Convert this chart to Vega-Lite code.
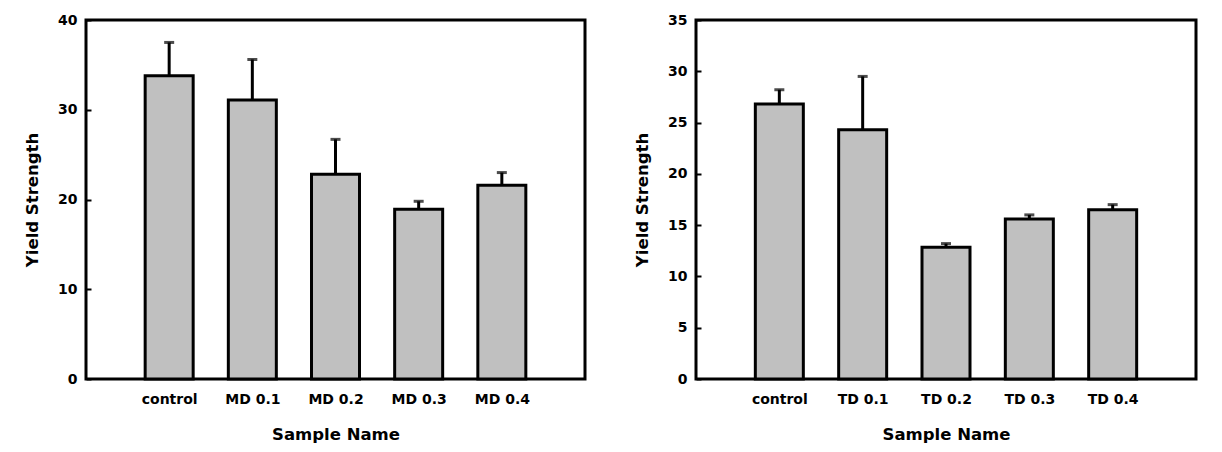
{
  "$schema": "https://vega.github.io/schema/vega-lite/v6.json",
  "background": "white",
  "padding": {"left": 23, "top": 11, "right": 5, "bottom": 5},
  "spacing": 46,
  "config": {
    "view": {"stroke": "black", "strokeWidth": 3},
    "font": "DejaVu Sans",
    "axis": {
      "labelFont": "DejaVu Sans", "labelFontWeight": "bold", "labelFontSize": 14, "labelColor": "black",
      "titleFont": "DejaVu Sans", "titleFontWeight": "bold", "titleFontSize": 16.5, "titleColor": "black",
      "grid": false, "domain": false
    }
  },
  "hconcat": [
    {
      "width": 499, "height": 359,
      "data": {"values": [
        {"sample": "control", "mean": 33.8, "upper": 37.5},
        {"sample": "MD 0.1", "mean": 31.1, "upper": 35.6},
        {"sample": "MD 0.2", "mean": 22.8, "upper": 26.7},
        {"sample": "MD 0.3", "mean": 18.9, "upper": 19.8},
        {"sample": "MD 0.4", "mean": 21.6, "upper": 23.0}
      ]},
      "encoding": {
        "x": {"field": "sample", "type": "nominal", "sort": null, "scale": {"type": "point", "padding": 1},
              "axis": {"title": "Sample Name", "labelAngle": 0, "ticks": false, "labelPadding": 13, "titlePadding": 20}}
      },
      "layer": [
        {"mark": {"type": "bar", "width": 48, "fill": "#c0c0c0", "stroke": "black", "strokeWidth": 3},
         "encoding": {"y": {"field": "mean", "type": "quantitative", "scale": {"domain": [0, 40], "nice": false},
           "axis": {"title": "Yield Strength", "values": [0, 10, 20, 30, 40], "tickSize": -5, "tickWidth": 2, "tickColor": "black", "labelPadding": 14, "titlePadding": 17}}}},
        {"mark": {"type": "rule", "strokeWidth": 3, "color": "black"},
         "encoding": {"y": {"field": "mean", "type": "quantitative", "title": "Yield Strength"}, "y2": {"field": "upper"}}},
        {"mark": {"type": "tick", "thickness": 3, "size": 10, "color": "black"},
         "encoding": {"y": {"field": "upper", "type": "quantitative", "title": "Yield Strength"}}}
      ]
    },
    {
      "width": 500, "height": 359,
      "data": {"values": [
        {"sample": "control", "mean": 26.8, "upper": 28.2},
        {"sample": "TD 0.1", "mean": 24.3, "upper": 29.5},
        {"sample": "TD 0.2", "mean": 12.84, "upper": 13.2},
        {"sample": "TD 0.3", "mean": 15.6, "upper": 16.0},
        {"sample": "TD 0.4", "mean": 16.5, "upper": 17.0}
      ]},
      "encoding": {
        "x": {"field": "sample", "type": "nominal", "sort": null, "scale": {"type": "point", "padding": 1},
              "axis": {"title": "Sample Name", "labelAngle": 0, "ticks": false, "labelPadding": 13, "titlePadding": 20}}
      },
      "layer": [
        {"mark": {"type": "bar", "width": 48, "fill": "#c0c0c0", "stroke": "black", "strokeWidth": 3},
         "encoding": {"y": {"field": "mean", "type": "quantitative", "scale": {"domain": [0, 35], "nice": false},
           "axis": {"title": "Yield Strength", "values": [0, 5, 10, 15, 20, 25, 30, 35], "tickSize": -5, "tickWidth": 2, "tickColor": "black", "labelPadding": 14, "titlePadding": 17}}}},
        {"mark": {"type": "rule", "strokeWidth": 3, "color": "black"},
         "encoding": {"y": {"field": "mean", "type": "quantitative", "title": "Yield Strength"}, "y2": {"field": "upper"}}},
        {"mark": {"type": "tick", "thickness": 3, "size": 10, "color": "black"},
         "encoding": {"y": {"field": "upper", "type": "quantitative", "title": "Yield Strength"}}}
      ]
    }
  ]
}
